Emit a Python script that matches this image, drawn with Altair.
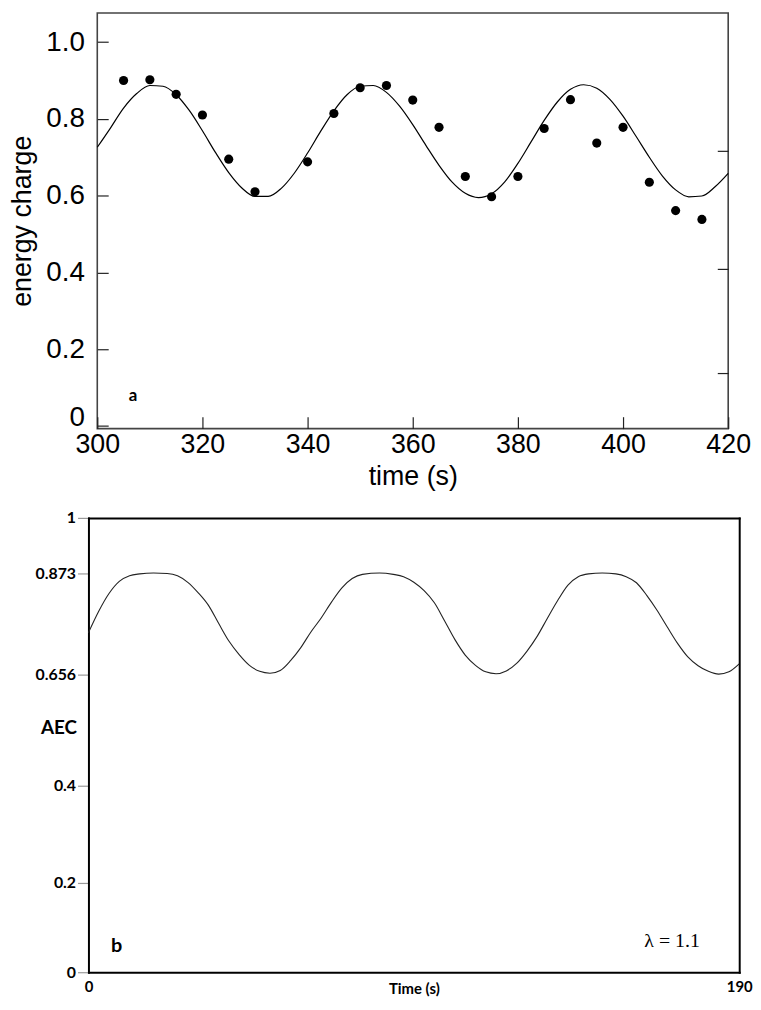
import altair as alt
import pandas as pd

# ---------- Panel a: measured energy charge ----------
a_time = [305, 310, 315, 320, 325, 330, 340, 345, 350, 355, 360, 365,
          370, 375, 380, 385, 390, 395, 400, 405, 410, 415]
a_charge = [0.900, 0.902, 0.864, 0.810, 0.695, 0.610, 0.688, 0.814, 0.881,
            0.887, 0.849, 0.778, 0.650, 0.597, 0.650, 0.775, 0.850, 0.737,
            0.778, 0.635, 0.561, 0.538]

# ---------- Panel a: model curve ----------
a_curve_time = [300, 302.5, 305, 307.5, 310, 312.5, 315, 317.5, 320, 322.5,
                325, 327.5, 330, 332.5, 335, 337.5, 340, 342.5, 345, 347.5,
                350, 352.5, 355, 357.5, 360, 362.5, 365, 367.5, 370, 372.5,
                375, 377.5, 380, 382.5, 385, 387.5, 390, 392.5, 395, 397.5,
                400, 402.5, 405, 407.5, 410, 412.5, 415, 417.5, 420]
a_curve_value = [0.726, 0.776, 0.828, 0.866, 0.887, 0.885, 0.863, 0.822,
                 0.769, 0.712, 0.660, 0.620, 0.598, 0.598, 0.619, 0.659,
                 0.711, 0.768, 0.821, 0.863, 0.885, 0.887, 0.869, 0.833,
                 0.785, 0.731, 0.679, 0.635, 0.606, 0.595, 0.605, 0.636,
                 0.684, 0.740, 0.796, 0.844, 0.877, 0.889, 0.880, 0.851,
                 0.807, 0.754, 0.700, 0.651, 0.615, 0.597, 0.599, 0.623,
                 0.658]

a_x_ticks = [300, 320, 340, 360, 380, 400, 420]
a_y_ticks = [0, 0.2, 0.4, 0.6, 0.8, 1.0]
a_right_ticks = [0.138, 0.409, 0.717]

# ---------- Panel b: AEC curve ----------
b_time = [0, 3, 6, 9, 12, 15, 19, 23, 26, 29, 32, 35, 38, 41, 44, 47, 50,
          53, 56, 59, 62, 65, 68, 71, 74, 77, 80, 85, 89, 92, 95, 98, 101,
          104, 107, 110, 113, 116, 119, 122, 125, 128, 131, 134, 137, 140,
          143, 146, 150, 154, 157, 160, 163, 166, 169, 172, 175, 178, 181,
          184, 187, 190]
b_aec = [0.746, 0.792, 0.830, 0.856, 0.868, 0.872, 0.874, 0.873, 0.868,
         0.854, 0.832, 0.805, 0.766, 0.728, 0.699, 0.676, 0.663, 0.659,
         0.665, 0.686, 0.714, 0.748, 0.778, 0.812, 0.842, 0.862, 0.871,
         0.874, 0.871, 0.866, 0.854, 0.836, 0.810, 0.771, 0.731, 0.698,
         0.676, 0.662, 0.658, 0.664, 0.680, 0.706, 0.738, 0.777, 0.815,
         0.848, 0.866, 0.872, 0.874, 0.872, 0.866, 0.853, 0.826, 0.794,
         0.758, 0.723, 0.694, 0.675, 0.663, 0.657, 0.662, 0.679]

b_y_ticks = [0, 0.2, 0.4, 0.656, 0.873, 1]
b_y_pixels = [458, 368, 270, 158, 56, 0]
b_x_ticks = [0, 190]

# ---------- annotations ----------
a_label = pd.DataFrame({"t": [306.8], "v": [0.078], "txt": ["a"]})
b_label = pd.DataFrame({"t": [8.2], "v": [0.058], "txt": ["b"]})
lam_label = pd.DataFrame({"t": [170.4], "v": [0.069], "txt": ["λ = 1.1"]})

SANS = "Liberation Sans"
BOLD = "Lato"

# ================= Panel a =================
a_pts = pd.DataFrame({"t": a_time, "v": a_charge})
a_line = pd.DataFrame({"t": a_curve_time, "v": a_curve_value})

xa = alt.X("t:Q",
           scale=alt.Scale(domain=[300, 420], nice=False, zero=False),
           axis=alt.Axis(values=a_x_ticks, format="d", domain=False,
                         tickSize=12, offset=-12, tickColor="#222",
                         tickWidth=1.2, labelPadding=3, labelFont=SANS,
                         labelFontSize=27, labelColor="black",
                         labelFlush=False, labelOverlap=False, grid=False,
                         title="time (s)", titleFont=SANS, titleFontSize=27,
                         titleFontWeight="normal", titleColor="black",
                         titlePadding=6))
ya_scale = alt.Scale(domain=[-0.007, 1.076], nice=False, zero=False)
ya = alt.Y("v:Q", scale=ya_scale,
           axis=alt.Axis(values=a_y_ticks,
                         labelExpr="datum.value == 0 ? '0' : format(datum.value, '.1f')",
                         labelOffset={"condition": {"test": "datum.value == 0",
                                                    "value": -8},
                                      "value": 0},
                         domain=False, tickSize=11, offset=-11,
                         tickColor="#222", tickWidth=1.2, labelPadding=13,
                         labelFont=SANS, labelFontSize=28, labelColor="black",
                         labelOverlap=False, grid=False,
                         title="energy charge", titleFont=SANS,
                         titleFontSize=27, titleFontWeight="normal",
                         titleColor="black", titlePadding=9))
ya_right = alt.Y("v:Q", scale=ya_scale,
                 axis=alt.Axis(orient="right", values=a_right_ticks,
                               labels=False, domain=False, tickSize=11,
                               offset=-11, tickColor="#222", tickWidth=1.2,
                               grid=False, title=None))

line_a = alt.Chart(a_line).mark_line(color="black", strokeWidth=1.2,
                                     interpolate="monotone").encode(x=xa, y=ya)
pts_a = alt.Chart(a_pts).mark_circle(color="black", opacity=1,
                                     size=85).encode(x=xa, y=ya_right)
txt_a = alt.Chart(a_label).mark_text(font=BOLD, fontWeight="bold",
                                     fontSize=17, color="black").encode(
    x=xa, y=alt.Y("v:Q", scale=ya_scale, axis=None), text="txt:N")

panel_a = alt.layer(line_a, pts_a, txt_a).resolve_axis(y="independent").properties(
    width=636, height=419,
    view=alt.ViewBackground(stroke="#444", strokeWidth=1.6))

# ================= Panel b =================
# The frame of panel b sits 9 px left of panel a's frame: the x range starts
# at -9 and the four frame sides are drawn as axis domain lines.
SHIFT = 8.9
b_df = pd.DataFrame({"t": b_time, "v": b_aec})
xb_scale = alt.Scale(domain=[0, 190], range=[-SHIFT, 656 - SHIFT],
                     nice=False, zero=False)
yb_scale = alt.Scale(domain=b_y_ticks, range=b_y_pixels, nice=False,
                     zero=False)

xb = alt.X("t:Q", scale=xb_scale,
           axis=alt.Axis(values=b_x_ticks, format="d", domain=True,
                         domainColor="black", domainWidth=2,
                         domainCap="square",
                         ticks=False, labelPadding=7, labelFont=BOLD,
                         labelFontWeight="bold", labelFontSize=15,
                         labelColor="black", labelFlush=False,
                         labelOverlap=False, grid=False,
                         title="Time (s)", titleFont=BOLD,
                         titleFontWeight="bold", titleFontSize=15,
                         titleColor="black", titleY=16,
                         titleBaseline="middle"))
yb = alt.Y("v:Q", scale=yb_scale,
           axis=alt.Axis(values=b_y_ticks, labelExpr="'' + datum.value",
                         offset=SHIFT, domain=True, domainColor="black",
                         domainWidth=2, domainCap="square",
                         tickSize=11, tickColor="#999",
                         tickWidth=1.2, labelPadding=2, labelFont=BOLD,
                         labelFontWeight="bold", labelFontSize=16,
                         labelColor="black", labelOverlap=False, grid=False,
                         title="AEC", titleAngle=0,
                         titleAlign="right",
                         titleBaseline="middle", titleX=-12, titleY=211,
                         titleFont=BOLD, titleFontWeight="bold",
                         titleFontSize=19, titleColor="black"))
xb_top = alt.X("t:Q", scale=xb_scale,
               axis=alt.Axis(orient="top", labels=False, ticks=False,
                             domain=True, domainColor="black",
                             domainWidth=2, domainCap="square",
                             grid=False, title=None))
yb_right = alt.Y("v:Q", scale=yb_scale,
                 axis=alt.Axis(orient="right", labels=False, ticks=False,
                               domain=True, domainColor="black",
                               domainWidth=2, domainCap="square",
                               grid=False, title=None))

line_b = alt.Chart(b_df).mark_line(color="#222", strokeWidth=1.1,
                                   interpolate="monotone").encode(x=xb, y=yb)
txt_b = alt.Chart(b_label).mark_text(font=BOLD, fontWeight="bold",
                                     fontSize=20, color="black").encode(
    x=xb_top, y=yb_right, text="txt:N")
txt_lam = alt.Chart(lam_label).mark_text(font="Liberation Serif",
                                         fontSize=20, color="black").encode(
    x=alt.X("t:Q", scale=xb_scale, axis=None),
    y=alt.Y("v:Q", scale=yb_scale, axis=None), text="txt:N")

panel_b = alt.layer(line_b, txt_b, txt_lam).resolve_axis(
    x="independent", y="independent").properties(
    width=656 - SHIFT, height=458,
    view=alt.ViewBackground(stroke="transparent", strokeWidth=0))

chart = alt.vconcat(panel_a, panel_b, spacing=20).properties(
    padding=0, background="white")

chart.save("out.html", embed_options={"renderer": "svg", "actions": False})
